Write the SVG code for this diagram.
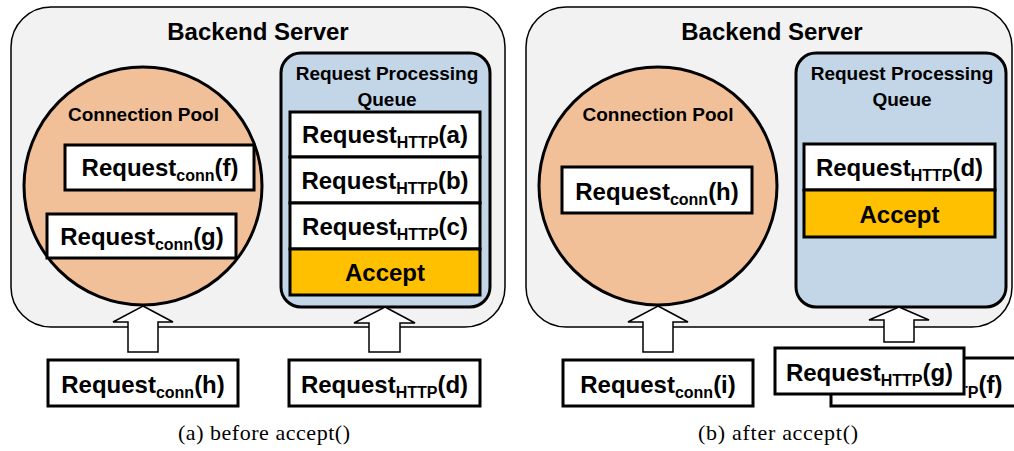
<svg xmlns="http://www.w3.org/2000/svg" width="1014" height="451" viewBox="0 0 1014 451">
  <style>
    .server { fill: #F2F2F2; stroke: #000; stroke-width: 1.5; }
    .pool { fill: #F1BF98; stroke: #000; stroke-width: 3; }
    .queue { fill: #C3D6E8; stroke: #000; stroke-width: 3; }
    .box { fill: #FFFFFF; stroke: #000; stroke-width: 3; }
    .accept { fill: #FFC000; stroke: #000; stroke-width: 3; }
    .arrow { fill: #FFFFFF; stroke: #000; stroke-width: 1.5; stroke-linejoin: miter; }
    text { font-family: "Liberation Sans", Arial, sans-serif; font-weight: bold; fill: #000; }
    .title { font-size: 24px; text-anchor: middle; }
    .label { font-size: 19px; text-anchor: middle; }
    .req { font-size: 24px; text-anchor: middle; }
    .start { text-anchor: start; }
    .sub { font-size: 16px; }
    .caption { font-family: "Liberation Serif", "Times New Roman", serif; font-weight: normal; font-size: 22px; text-anchor: middle; }
  </style>
  <defs>
    <!-- the part of the (f) request that stays visible behind the (g) request -->
    <clipPath id="behind-g">
      <rect x="965.5" y="340" width="60" height="80"/>
    </clipPath>
  </defs>

  <!-- (a) before accept() -->
  <g id="server-a">
    <rect class="server" x="11" y="7" width="494" height="320" rx="40" ry="40"/>
    <text class="title" x="258" y="40">Backend Server</text>
  </g>
  <g id="pool-a">
    <circle class="pool" cx="143" cy="186" r="119"/>
    <text class="label" x="143.5" y="121">Connection Pool</text>
  </g>
  <g id="pool-a-conn-f">
    <rect class="box" x="65" y="145" width="189" height="45"/>
    <text class="req" x="160" y="176">Request<tspan class="sub" dy="5">conn</tspan><tspan dy="-5">(f)</tspan></text>
  </g>
  <g id="pool-a-conn-g">
    <rect class="box" x="47" y="214" width="189" height="44"/>
    <text class="req" x="142" y="245">Request<tspan class="sub" dy="5">conn</tspan><tspan dy="-5">(g)</tspan></text>
  </g>
  <g id="queue-a">
    <rect class="queue" x="281" y="53" width="209" height="254" rx="20" ry="20"/>
    <text class="label" x="387" y="80">Request Processing</text>
    <text class="label" x="387" y="106">Queue</text>
  </g>
  <g id="queue-a-http-a">
    <rect class="box" x="290" y="112" width="190" height="45"/>
    <text class="req" x="385" y="143">Request<tspan class="sub" dy="5">HTTP</tspan><tspan dy="-5">(a)</tspan></text>
  </g>
  <g id="queue-a-http-b">
    <rect class="box" x="290" y="157" width="190" height="46"/>
    <text class="req" x="385" y="189">Request<tspan class="sub" dy="5">HTTP</tspan><tspan dy="-5">(b)</tspan></text>
  </g>
  <g id="queue-a-http-c">
    <rect class="box" x="290" y="203" width="190" height="46"/>
    <text class="req" x="385" y="235">Request<tspan class="sub" dy="5">HTTP</tspan><tspan dy="-5">(c)</tspan></text>
  </g>
  <g id="queue-a-accept">
    <rect class="accept" x="290" y="249" width="190" height="46"/>
    <text class="req" x="385" y="281">Accept</text>
  </g>

  <!-- (b) after accept() -->
  <g id="server-b">
    <rect class="server" x="526" y="7" width="486" height="320" rx="40" ry="40"/>
    <text class="title" x="772" y="40">Backend Server</text>
  </g>
  <g id="pool-b">
    <circle class="pool" cx="658" cy="186" r="119"/>
    <text class="label" x="658" y="121">Connection Pool</text>
  </g>
  <g id="pool-b-conn-h">
    <rect class="box" x="562" y="167" width="190" height="46"/>
    <text class="req" x="657" y="200">Request<tspan class="sub" dy="5">conn</tspan><tspan dy="-5">(h)</tspan></text>
  </g>
  <g id="queue-b">
    <rect class="queue" x="796" y="53" width="210" height="254" rx="20" ry="20"/>
    <text class="label" x="902" y="80">Request Processing</text>
    <text class="label" x="902" y="106">Queue</text>
  </g>
  <g id="queue-b-http-d">
    <rect class="box" x="804" y="144" width="191" height="46"/>
    <text class="req" x="899.5" y="176">Request<tspan class="sub" dy="5">HTTP</tspan><tspan dy="-5">(d)</tspan></text>
  </g>
  <g id="queue-b-accept">
    <rect class="accept" x="804" y="190" width="191" height="47"/>
    <text class="req" x="899.5" y="223">Accept</text>
  </g>

  <!-- incoming-request arrows -->
  <g id="connectors">
    <path class="arrow" d="M143,306 L173,322 L158,322 L158,352 L128,352 L128,322 L113,322 Z"/>
    <path class="arrow" d="M385,307 L415,323 L400,323 L400,352 L369,352 L369,323 L354,323 Z"/>
    <path class="arrow" d="M658,306 L688,322 L673,322 L673,352 L643,352 L643,322 L628,322 Z"/>
    <path class="arrow" d="M899,307 L929,320 L914,320 L914,342 L884,342 L884,320 L869,320 Z"/>
  </g>

  <!-- waiting requests -->
  <g id="incoming-a-conn-h">
    <rect class="box" x="48" y="360" width="190" height="46"/>
    <text class="req" x="143" y="393">Request<tspan class="sub" dy="5">conn</tspan><tspan dy="-5">(h)</tspan></text>
  </g>
  <g id="incoming-a-http-d">
    <rect class="box" x="289" y="360" width="191" height="46"/>
    <text class="req" x="384.5" y="393">Request<tspan class="sub" dy="5">HTTP</tspan><tspan dy="-5">(d)</tspan></text>
  </g>
  <g id="incoming-b-conn-i">
    <rect class="box" x="563" y="360" width="190" height="46"/>
    <text class="req" x="658" y="393">Request<tspan class="sub" dy="5">conn</tspan><tspan dy="-5">(i)</tspan></text>
  </g>
  <g id="incoming-b-http-f">
    <rect class="box" x="831" y="358" width="190" height="48"/>
    <text class="req start" x="842" y="393" clip-path="url(#behind-g)">Request<tspan class="sub" dy="5">HTTP</tspan><tspan dy="-5">(f)</tspan></text>
  </g>
  <g id="incoming-b-http-g">
    <rect class="box" x="775" y="348" width="189" height="46"/>
    <text class="req" x="869.5" y="381">Request<tspan class="sub" dy="5">HTTP</tspan><tspan dy="-5">(g)</tspan></text>
  </g>

  <g id="captions">
    <text class="caption" x="264" y="440" textLength="172" lengthAdjust="spacing">(a) before accept()</text>
    <text class="caption" x="778" y="440" textLength="160" lengthAdjust="spacing">(b) after accept()</text>
  </g>
</svg>
